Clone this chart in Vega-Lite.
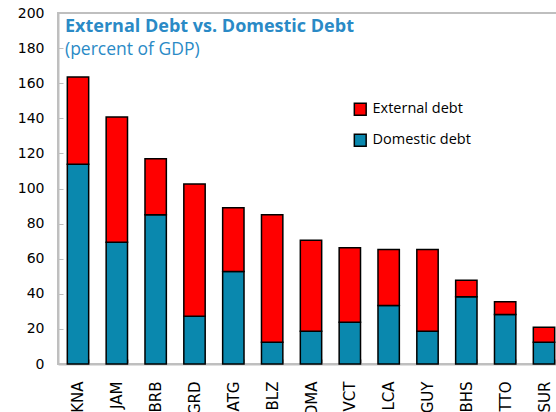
{
  "$schema": "https://vega.github.io/schema/vega-lite/v6.json",
  "autosize": {"type": "none"},
  "width": 506,
  "height": 351,
  "padding": {"left": 58, "top": 13, "right": 0, "bottom": 48},
  "background": "white",
  "title": {
    "text": "External Debt vs. Domestic Debt",
    "subtitle": "(percent of GDP)",
    "anchor": "start",
    "frame": "group",
    "orient": "top",
    "font": "Open Sans",
    "fontSize": 18,
    "fontWeight": "bold",
    "color": "#2a8ac6",
    "subtitleFont": "Open Sans",
    "subtitleFontSize": 17.5,
    "subtitleColor": "#2a8ac6",
    "subtitlePadding": 5,
    "baseline": "top",
    "dx": 7,
    "dy": 56
  },
  "config": {
    "view": {"stroke": "#bfbfbf", "strokeWidth": 2},
    "axis": {"labelFont": "DejaVu Sans", "labelColor": "black", "labelFontSize": 14, "domainColor": "#bfbfbf", "domainWidth": 2, "tickColor": "#bfbfbf", "grid": false, "title": null}
  },
  "data": {
    "values": [
      {"country": "KNA", "type": "Domestic debt", "value": 113.8},
      {"country": "KNA", "type": "External debt", "value": 49.7},
      {"country": "JAM", "type": "Domestic debt", "value": 69.4},
      {"country": "JAM", "type": "External debt", "value": 71.4},
      {"country": "BRB", "type": "Domestic debt", "value": 85.0},
      {"country": "BRB", "type": "External debt", "value": 32.0},
      {"country": "GRD", "type": "Domestic debt", "value": 27.2},
      {"country": "GRD", "type": "External debt", "value": 75.4},
      {"country": "ATG", "type": "Domestic debt", "value": 52.7},
      {"country": "ATG", "type": "External debt", "value": 36.4},
      {"country": "BLZ", "type": "Domestic debt", "value": 12.4},
      {"country": "BLZ", "type": "External debt", "value": 72.6},
      {"country": "DMA", "type": "Domestic debt", "value": 18.7},
      {"country": "DMA", "type": "External debt", "value": 51.8},
      {"country": "VCT", "type": "Domestic debt", "value": 23.8},
      {"country": "VCT", "type": "External debt", "value": 42.5},
      {"country": "LCA", "type": "Domestic debt", "value": 33.3},
      {"country": "LCA", "type": "External debt", "value": 31.9},
      {"country": "GUY", "type": "Domestic debt", "value": 18.7},
      {"country": "GUY", "type": "External debt", "value": 46.5},
      {"country": "BHS", "type": "Domestic debt", "value": 38.3},
      {"country": "BHS", "type": "External debt", "value": 9.4},
      {"country": "TTO", "type": "Domestic debt", "value": 28.2},
      {"country": "TTO", "type": "External debt", "value": 7.2},
      {"country": "SUR", "type": "Domestic debt", "value": 12.4},
      {"country": "SUR", "type": "External debt", "value": 8.6}
    ]
  },
  "mark": {"type": "bar", "stroke": "black", "strokeWidth": 1.5},
  "encoding": {
    "x": {
      "field": "country",
      "type": "nominal",
      "sort": null,
      "scale": {"paddingInner": 0.45, "paddingOuter": 0.24},
      "axis": {"labelAngle": -90, "tickBand": "extent", "tickSize": -5, "labelPadding": 22, "labelFontSize": 15}
    },
    "y": {
      "field": "value",
      "type": "quantitative",
      "stack": "zero",
      "scale": {"domain": [0, 200], "nice": false},
      "axis": {"values": [0, 20, 40, 60, 80, 100, 120, 140, 160, 180, 200], "tickSize": -5, "labelPadding": 19}
    },
    "color": {
      "field": "type",
      "type": "nominal",
      "scale": {"domain": ["External debt", "Domestic debt"], "range": ["#ff0000", "#0a88ae"]},
      "legend": {
        "title": null,
        "orient": "none",
        "legendX": 295,
        "legendY": 89,
        "symbolType": "square",
        "symbolSize": 140,
        "symbolStrokeColor": "black",
        "symbolStrokeWidth": 1.5,
        "labelFont": "Open Sans",
        "labelFontSize": 14.5,
        "labelColor": "black",
        "rowPadding": 12,
        "labelOffset": 5
      }
    },
    "order": {"field": "type", "sort": "ascending"}
  }
}
